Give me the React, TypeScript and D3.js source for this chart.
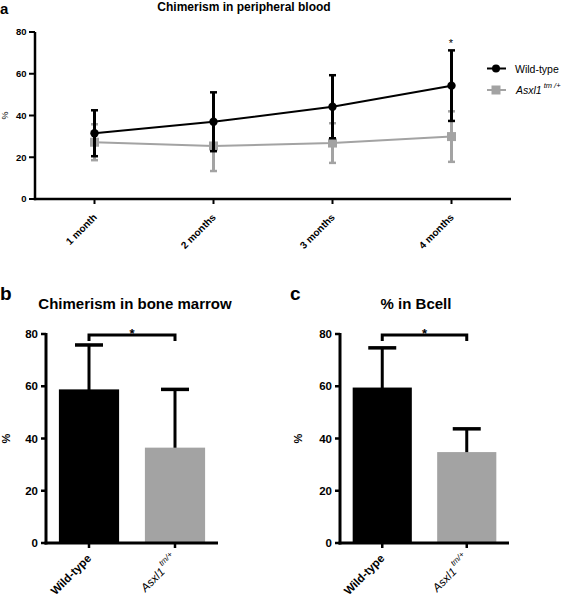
import React from "react";
import * as d3 from "d3";

// ---- Panel a data ----
const months = ["1 month", "2 months", "3 months", "4 months"];
const wtMean = [31.5, 37.0, 44.2, 54.3];
const wtErr = [11.0, 14.1, 15.1, 16.9];
const mutMean = [27.2, 25.4, 26.8, 29.9];
const mutErr = [8.6, 12.0, 9.5, 12.1];
const yTicks = [0, 20, 40, 60, 80];

// ---- Panel b / c data ----
const groups = ["Wild-type", "Asxl1"];
const bmMean = [58.8, 36.5];
const bmErr = [17.0, 22.3];
const bcMean = [59.5, 34.8];
const bcErr = [15.2, 8.9];

const GRAY = "#a3a3a3";
const FONT = "Liberation Sans, Arial, Helvetica, sans-serif";

function PanelA() {
  const x = d3.scaleBand<string>().domain(months).range([35, 511]).padding(0);
  const y = d3.scaleLinear().domain([0, 80]).range([199, 32]);
  const cx = (m: string) => (x(m) as number) + x.bandwidth() / 2;
  const line = d3
    .line<number>()
    .x((_, i) => cx(months[i]))
    .y((d) => y(d));
  const series = [
    { mean: mutMean, err: mutErr, color: GRAY, marker: "square" },
    { mean: wtMean, err: wtErr, color: "#000", marker: "circle" },
  ];
  return (
    <g>
      <text x={0} y={14} fontSize={15} fontWeight="bold" fontFamily={FONT}>a</text>
      <text x={244} y={11} fontSize={12} fontWeight="bold" textAnchor="middle" fontFamily={FONT}>
        Chimerism in peripheral blood
      </text>
      {/* axes */}
      <line x1={35} x2={35} y1={y(80)} y2={y(0) + 1.2} stroke="#000" strokeWidth={2.5} />
      <line x1={33.8} x2={511} y1={y(0)} y2={y(0)} stroke="#000" strokeWidth={2.5} />
      {yTicks.map((t) => (
        <g key={t}>
          <line x1={29} x2={35} y1={y(t)} y2={y(t)} stroke="#000" strokeWidth={2} />
          <text x={26.5} y={y(t)} dy="0.35em" textAnchor="end" fontSize={9.5} fontWeight="bold" fontFamily={FONT}>
            {t}
          </text>
        </g>
      ))}
      {months.map((m) => (
        <g key={m}>
          <line x1={cx(m)} x2={cx(m)} y1={y(0)} y2={y(0) + 5} stroke="#000" strokeWidth={2} />
          <text
            transform={`translate(${cx(m) + 3},${y(0) + 19}) rotate(-45)`}
            textAnchor="end"
            fontSize={10}
            fontWeight="bold"
            fontFamily={FONT}
          >
            {m}
          </text>
        </g>
      ))}
      <text transform={`translate(8,${y(40)}) rotate(-90)`} textAnchor="middle" fontSize={9} fontFamily={FONT}>%</text>
      {series.map((s, si) => (
        <g key={si}>
          <path d={line(s.mean) || ""} fill="none" stroke={s.color} strokeWidth={2} />
          {s.mean.map((v, i) => {
            const xx = cx(months[i]);
            const top = y(v + s.err[i]);
            const bot = y(v - s.err[i]);
            return (
              <g key={i}>
                <line x1={xx} x2={xx} y1={top} y2={bot} stroke={s.color} strokeWidth={3} />
                <line x1={xx - 3.5} x2={xx + 3.5} y1={top} y2={top} stroke={s.color} strokeWidth={2.5} />
                <line x1={xx - 3.5} x2={xx + 3.5} y1={bot} y2={bot} stroke={s.color} strokeWidth={2.5} />
                {s.marker === "circle" ? (
                  <circle cx={xx} cy={y(v)} r={4.2} fill={s.color} />
                ) : (
                  <rect x={xx - 4.5} y={y(v) - 4.5} width={9} height={9} fill={s.color} />
                )}
              </g>
            );
          })}
        </g>
      ))}
      <text x={451} y={47} textAnchor="middle" fontSize={11} fontFamily={FONT}>*</text>
      {/* legend */}
      <line x1={487} x2={506} y1={68.5} y2={68.5} stroke="#000" strokeWidth={2} />
      <circle cx={496} cy={68.5} r={4} fill="#000" />
      <text x={515} y={72.5} fontSize={10.5} fontFamily={FONT}>Wild-type</text>
      <line x1={487} x2={506} y1={90} y2={90} stroke={GRAY} strokeWidth={2} />
      <rect x={491.5} y={85.5} width={9} height={9} fill={GRAY} />
      <text x={516} y={94} fontSize={10.5} fontStyle="italic" fontFamily={FONT}>
        Asxl1
        <tspan dx={2} dy={-6} fontSize={7.5}>tm /+</tspan>
      </text>
    </g>
  );
}

function BarPanel({
  label,
  labelX,
  title,
  titleX,
  x0,
  x1,
  mean,
  err,
  pctX,
}: {
  label: string;
  labelX: number;
  title: string;
  titleX: number;
  x0: number;
  x1: number;
  mean: number[];
  err: number[];
  pctX: number;
}) {
  const x = d3.scaleBand<string>().domain(groups).range([x0, x1]).paddingInner(0.3).paddingOuter(0.15);
  const y = d3.scaleLinear().domain([0, 80]).range([543, 334]);
  const cx = (g: string) => (x(g) as number) + x.bandwidth() / 2;
  const colors = ["#000", GRAY];
  const bx0 = cx(groups[0]);
  const bx1 = cx(groups[1]);
  const by = y(80) + 1;
  return (
    <g>
      <text x={labelX} y={300} fontSize={19} fontWeight="bold" fontFamily={FONT}>{label}</text>
      <text x={titleX} y={309} fontSize={15} fontWeight="bold" textAnchor="middle" fontFamily={FONT}>{title}</text>
      {groups.map((g, i) => {
        const xx = cx(g);
        const top = y(mean[i] + err[i]);
        return (
          <g key={g}>
            <line x1={xx} x2={xx} y1={y(mean[i]) + 4} y2={top} stroke="#000" strokeWidth={3} />
            <line x1={xx - 14} x2={xx + 14} y1={top} y2={top} stroke="#000" strokeWidth={3.5} />
            <rect
              x={x(g) as number}
              y={y(mean[i])}
              width={x.bandwidth()}
              height={y(0) - y(mean[i])}
              fill={colors[i]}
            />
          </g>
        );
      })}
      {/* axes */}
      <line x1={x0} x2={x0} y1={y(80) - 1} y2={y(0) + 1.5} stroke="#000" strokeWidth={3} />
      <line x1={x0 - 1.5} x2={x1} y1={y(0)} y2={y(0)} stroke="#000" strokeWidth={3} />
      {yTicks.map((t) => (
        <g key={t}>
          <line x1={x0 - 5} x2={x0} y1={y(t)} y2={y(t)} stroke="#000" strokeWidth={2.5} />
          <text x={x0 - 8} y={y(t)} dy="0.36em" textAnchor="end" fontSize={11.5} fontWeight="bold" fontFamily={FONT}>
            {t}
          </text>
        </g>
      ))}
      <text transform={`translate(${pctX},${y(40)}) rotate(-90)`} textAnchor="middle" fontSize={11} fontWeight="bold" fontFamily={FONT}>%</text>
      {groups.map((g, i) => (
        <g key={g}>
          <line x1={cx(g)} x2={cx(g)} y1={y(0)} y2={y(0) + 5} stroke="#000" strokeWidth={2.5} />
          {i === 0 ? (
            <text
              transform={`translate(${cx(g) + 3},${y(0) + 16}) rotate(-45)`}
              textAnchor="end"
              fontSize={11.5}
              fontWeight="bold"
              fontFamily={FONT}
            >
              {g}
            </text>
          ) : (
            <text
              transform={`translate(${cx(g) + 3},${y(0) + 17}) rotate(-45)`}
              textAnchor="end"
              fontSize={11.5}
              fontStyle="italic"
              fontFamily={FONT}
            >
              {g}
              <tspan dx={2} dy={-7} fontSize={8}>tm/+</tspan>
            </text>
          )}
        </g>
      ))}
      {/* significance bracket */}
      <path
        d={`M${bx0},${by + 6}V${by}H${bx1}V${by + 6}`}
        fill="none"
        stroke="#000"
        strokeWidth={3}
      />
      <text x={(bx0 + bx1) / 2} y={by + 3} textAnchor="middle" fontSize={13} fontWeight="bold" fontFamily={FONT}>*</text>
    </g>
  );
}

export default function App() {
  return (
    <svg
      width={565}
      height={600}
      style={{ position: "absolute", left: 0, top: 0, background: "#fff" }}
    >
      <rect width={565} height={600} fill="#fff" />
      <PanelA />
      <BarPanel label="b" labelX={0} title="Chimerism in bone marrow" titleX={135} x0={46} x1={218} mean={bmMean} err={bmErr} pctX={10} />
      <BarPanel label="c" labelX={290} title="% in Bcell" titleX={416} x0={340} x1={509} mean={bcMean} err={bcErr} pctX={302} />
    </svg>
  );
}
